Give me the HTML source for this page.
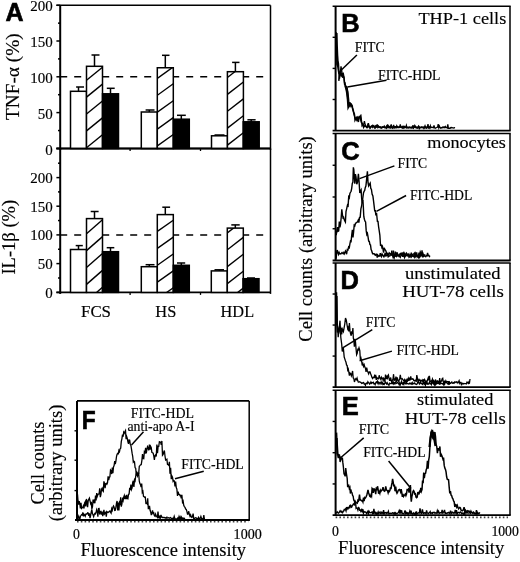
<!DOCTYPE html>
<html><head><meta charset="utf-8"><style>
html,body{margin:0;padding:0;background:#fff;}
svg{display:block;filter:grayscale(1);}
text{fill:#000;stroke:#000;stroke-width:0.15px;}
text.b{stroke-width:0.6px;}
text.s{stroke-width:0.2px;}
</style></head><body>
<svg width="520" height="562" viewBox="0 0 520 562">
<rect width="520" height="562" fill="#fff"/>
<line x1="60.2" y1="5.3" x2="60.2" y2="150.0" stroke="#000" stroke-width="2" />
<line x1="56.400000000000006" y1="5.3" x2="270.5" y2="5.3" stroke="#000" stroke-width="1.6" />
<line x1="270.5" y1="5.3" x2="270.5" y2="150.0" stroke="#000" stroke-width="1.5" />
<line x1="56.400000000000006" y1="148.5" x2="270.5" y2="148.5" stroke="#000" stroke-width="1.8" />
<line x1="56.400000000000006" y1="5.3" x2="60.2" y2="5.3" stroke="#000" stroke-width="1.5" />
<line x1="56.400000000000006" y1="41.0" x2="60.2" y2="41.0" stroke="#000" stroke-width="1.5" />
<line x1="56.400000000000006" y1="76.8" x2="60.2" y2="76.8" stroke="#000" stroke-width="1.5" />
<line x1="56.400000000000006" y1="112.6" x2="60.2" y2="112.6" stroke="#000" stroke-width="1.5" />
<line x1="56.400000000000006" y1="148.5" x2="60.2" y2="148.5" stroke="#000" stroke-width="1.5" />
<line x1="58.0" y1="23.15" x2="60.2" y2="23.15" stroke="#000" stroke-width="1.5" />
<line x1="58.0" y1="58.9" x2="60.2" y2="58.9" stroke="#000" stroke-width="1.5" />
<line x1="58.0" y1="94.69999999999999" x2="60.2" y2="94.69999999999999" stroke="#000" stroke-width="1.5" />
<line x1="58.0" y1="130.55" x2="60.2" y2="130.55" stroke="#000" stroke-width="1.5" />
<line x1="60.2" y1="76.8" x2="265" y2="76.8" stroke="#000" stroke-width="1.6" stroke-dasharray="7 7"/>
<rect x="70.5" y="91.3" width="16" height="57.2" fill="#fff" stroke="#000" stroke-width="1.5"/>
<line x1="78.5" y1="91.3" x2="78.5" y2="87.0" stroke="#000" stroke-width="1.5" />
<line x1="76.1" y1="87.0" x2="84.0" y2="87.0" stroke="#000" stroke-width="1.5" />
<rect x="86.5" y="66.3" width="16" height="82.2" fill="#fff" stroke="#000" stroke-width="1.5"/>
<clipPath id="c86_5"><rect x="86.5" y="66.3" width="16" height="82.2"/></clipPath>
<g clip-path="url(#c86_5)">
<line x1="86.5" y1="63.300000000000004" x2="102.5" y2="50.300000000000004" stroke="#000" stroke-width="1.4" />
<line x1="86.5" y1="80.2" x2="102.5" y2="67.2" stroke="#000" stroke-width="1.4" />
<line x1="86.5" y1="97.1" x2="102.5" y2="84.1" stroke="#000" stroke-width="1.4" />
<line x1="86.5" y1="114.0" x2="102.5" y2="101.0" stroke="#000" stroke-width="1.4" />
<line x1="86.5" y1="130.9" x2="102.5" y2="117.9" stroke="#000" stroke-width="1.4" />
<line x1="86.5" y1="147.8" x2="102.5" y2="134.8" stroke="#000" stroke-width="1.4" />
<line x1="86.5" y1="164.70000000000002" x2="102.5" y2="151.70000000000002" stroke="#000" stroke-width="1.4" />
</g>
<line x1="94.5" y1="66.3" x2="94.5" y2="55.0" stroke="#000" stroke-width="1.5" />
<line x1="91.5" y1="55.0" x2="99.5" y2="55.0" stroke="#000" stroke-width="1.5" />
<rect x="102.5" y="93.8" width="16" height="54.7" fill="#000" stroke="#000" stroke-width="1.5"/>
<line x1="110.5" y1="93.8" x2="110.5" y2="88.3" stroke="#000" stroke-width="1.5" />
<line x1="106.8" y1="88.3" x2="114.7" y2="88.3" stroke="#000" stroke-width="1.5" />
<rect x="141.3" y="112.0" width="16" height="36.5" fill="#fff" stroke="#000" stroke-width="1.5"/>
<line x1="149.3" y1="112.0" x2="149.3" y2="110.0" stroke="#000" stroke-width="1.5" />
<line x1="145.6" y1="110.0" x2="154.5" y2="110.0" stroke="#000" stroke-width="1.5" />
<rect x="157.3" y="67.75" width="16" height="80.75" fill="#fff" stroke="#000" stroke-width="1.5"/>
<clipPath id="c157_5"><rect x="157.3" y="67.75" width="16" height="80.75"/></clipPath>
<g clip-path="url(#c157_5)">
<line x1="157.3" y1="61.50000000000001" x2="173.3" y2="50.00000000000001" stroke="#000" stroke-width="1.4" />
<line x1="157.3" y1="78.4" x2="173.3" y2="66.9" stroke="#000" stroke-width="1.4" />
<line x1="157.3" y1="95.30000000000001" x2="173.3" y2="83.80000000000001" stroke="#000" stroke-width="1.4" />
<line x1="157.3" y1="112.20000000000002" x2="173.3" y2="100.70000000000002" stroke="#000" stroke-width="1.4" />
<line x1="157.3" y1="129.10000000000002" x2="173.3" y2="117.60000000000002" stroke="#000" stroke-width="1.4" />
<line x1="157.3" y1="146.00000000000003" x2="173.3" y2="134.50000000000003" stroke="#000" stroke-width="1.4" />
<line x1="157.3" y1="162.90000000000003" x2="173.3" y2="151.40000000000003" stroke="#000" stroke-width="1.4" />
</g>
<line x1="165.3" y1="67.75" x2="165.3" y2="55.3" stroke="#000" stroke-width="1.5" />
<line x1="162.0" y1="55.3" x2="169.5" y2="55.3" stroke="#000" stroke-width="1.5" />
<rect x="173.3" y="119.2" width="16" height="29.299999999999997" fill="#000" stroke="#000" stroke-width="1.5"/>
<line x1="181.3" y1="119.2" x2="181.3" y2="115.3" stroke="#000" stroke-width="1.5" />
<line x1="177.0" y1="115.3" x2="185.8" y2="115.3" stroke="#000" stroke-width="1.5" />
<rect x="211.5" y="135.8" width="16" height="12.699999999999989" fill="#fff" stroke="#000" stroke-width="1.5"/>
<line x1="219.5" y1="135.8" x2="219.5" y2="135.0" stroke="#000" stroke-width="1.5" />
<line x1="214.5" y1="135.0" x2="224.5" y2="135.0" stroke="#000" stroke-width="1.5" />
<rect x="227.4" y="71.7" width="16" height="76.8" fill="#fff" stroke="#000" stroke-width="1.5"/>
<clipPath id="c227_5"><rect x="227.4" y="71.7" width="16" height="76.8"/></clipPath>
<g clip-path="url(#c227_5)">
<line x1="227.4" y1="60.6" x2="243.4" y2="48.2" stroke="#000" stroke-width="1.4" />
<line x1="227.4" y1="77.5" x2="243.4" y2="65.1" stroke="#000" stroke-width="1.4" />
<line x1="227.4" y1="94.4" x2="243.4" y2="82.0" stroke="#000" stroke-width="1.4" />
<line x1="227.4" y1="111.30000000000001" x2="243.4" y2="98.9" stroke="#000" stroke-width="1.4" />
<line x1="227.4" y1="128.20000000000002" x2="243.4" y2="115.80000000000001" stroke="#000" stroke-width="1.4" />
<line x1="227.4" y1="145.10000000000002" x2="243.4" y2="132.70000000000002" stroke="#000" stroke-width="1.4" />
<line x1="227.4" y1="162.00000000000003" x2="243.4" y2="149.60000000000002" stroke="#000" stroke-width="1.4" />
</g>
<line x1="235.4" y1="71.7" x2="235.4" y2="62.4" stroke="#000" stroke-width="1.5" />
<line x1="232.1" y1="62.4" x2="239.5" y2="62.4" stroke="#000" stroke-width="1.5" />
<rect x="243.2" y="121.8" width="16" height="26.700000000000003" fill="#000" stroke="#000" stroke-width="1.5"/>
<line x1="251.2" y1="121.8" x2="251.2" y2="119.8" stroke="#000" stroke-width="1.5" />
<line x1="247.4" y1="119.8" x2="255.6" y2="119.8" stroke="#000" stroke-width="1.5" />
<line x1="130.1" y1="148.5" x2="130.1" y2="151.0" stroke="#000" stroke-width="1.3" />
<line x1="200.5" y1="148.5" x2="200.5" y2="151.0" stroke="#000" stroke-width="1.3" />
<line x1="58.0" y1="163.2" x2="60.2" y2="163.2" stroke="#000" stroke-width="1.5" />
<line x1="60.2" y1="148.5" x2="60.2" y2="293.9" stroke="#000" stroke-width="2" />
<line x1="56.400000000000006" y1="148.5" x2="270.5" y2="148.5" stroke="#000" stroke-width="1.6" />
<line x1="270.5" y1="148.5" x2="270.5" y2="293.9" stroke="#000" stroke-width="1.5" />
<line x1="56.400000000000006" y1="292.4" x2="270.5" y2="292.4" stroke="#000" stroke-width="1.8" />
<line x1="56.400000000000006" y1="177.6" x2="60.2" y2="177.6" stroke="#000" stroke-width="1.5" />
<line x1="56.400000000000006" y1="206.2" x2="60.2" y2="206.2" stroke="#000" stroke-width="1.5" />
<line x1="56.400000000000006" y1="234.9" x2="60.2" y2="234.9" stroke="#000" stroke-width="1.5" />
<line x1="56.400000000000006" y1="263.6" x2="60.2" y2="263.6" stroke="#000" stroke-width="1.5" />
<line x1="56.400000000000006" y1="292.4" x2="60.2" y2="292.4" stroke="#000" stroke-width="1.5" />
<line x1="58.0" y1="191.89999999999998" x2="60.2" y2="191.89999999999998" stroke="#000" stroke-width="1.5" />
<line x1="58.0" y1="220.55" x2="60.2" y2="220.55" stroke="#000" stroke-width="1.5" />
<line x1="58.0" y1="249.25" x2="60.2" y2="249.25" stroke="#000" stroke-width="1.5" />
<line x1="58.0" y1="278.0" x2="60.2" y2="278.0" stroke="#000" stroke-width="1.5" />
<line x1="60.2" y1="235.0" x2="265" y2="235.0" stroke="#000" stroke-width="1.6" stroke-dasharray="7 7"/>
<rect x="70.5" y="249.5" width="16" height="42.89999999999998" fill="#fff" stroke="#000" stroke-width="1.5"/>
<line x1="78.5" y1="249.5" x2="78.5" y2="245.6" stroke="#000" stroke-width="1.5" />
<line x1="75.7" y1="245.6" x2="82.8" y2="245.6" stroke="#000" stroke-width="1.5" />
<rect x="86.5" y="218.6" width="16" height="73.79999999999998" fill="#fff" stroke="#000" stroke-width="1.5"/>
<clipPath id="c86_148"><rect x="86.5" y="218.6" width="16" height="73.79999999999998"/></clipPath>
<g clip-path="url(#c86_148)">
<line x1="86.5" y1="216.79999999999998" x2="102.5" y2="202.79999999999998" stroke="#000" stroke-width="1.4" />
<line x1="86.5" y1="233.7" x2="102.5" y2="219.7" stroke="#000" stroke-width="1.4" />
<line x1="86.5" y1="250.6" x2="102.5" y2="236.6" stroke="#000" stroke-width="1.4" />
<line x1="86.5" y1="267.5" x2="102.5" y2="253.5" stroke="#000" stroke-width="1.4" />
<line x1="86.5" y1="284.4" x2="102.5" y2="270.4" stroke="#000" stroke-width="1.4" />
<line x1="86.5" y1="301.29999999999995" x2="102.5" y2="287.29999999999995" stroke="#000" stroke-width="1.4" />
</g>
<line x1="94.5" y1="218.6" x2="94.5" y2="211.5" stroke="#000" stroke-width="1.5" />
<line x1="90.7" y1="211.5" x2="98.6" y2="211.5" stroke="#000" stroke-width="1.5" />
<rect x="102.5" y="251.7" width="16" height="40.69999999999999" fill="#000" stroke="#000" stroke-width="1.5"/>
<line x1="110.5" y1="251.7" x2="110.5" y2="247.7" stroke="#000" stroke-width="1.5" />
<line x1="106.7" y1="247.7" x2="114.3" y2="247.7" stroke="#000" stroke-width="1.5" />
<rect x="141.3" y="266.7" width="16" height="25.69999999999999" fill="#fff" stroke="#000" stroke-width="1.5"/>
<line x1="149.3" y1="266.7" x2="149.3" y2="264.7" stroke="#000" stroke-width="1.5" />
<line x1="145.6" y1="264.7" x2="154.5" y2="264.7" stroke="#000" stroke-width="1.5" />
<rect x="157.3" y="214.6" width="16" height="77.79999999999998" fill="#fff" stroke="#000" stroke-width="1.5"/>
<clipPath id="c157_148"><rect x="157.3" y="214.6" width="16" height="77.79999999999998"/></clipPath>
<g clip-path="url(#c157_148)">
<line x1="157.3" y1="214.6" x2="173.3" y2="203.29999999999998" stroke="#000" stroke-width="1.4" />
<line x1="157.3" y1="231.5" x2="173.3" y2="220.2" stroke="#000" stroke-width="1.4" />
<line x1="157.3" y1="248.4" x2="173.3" y2="237.1" stroke="#000" stroke-width="1.4" />
<line x1="157.3" y1="265.3" x2="173.3" y2="254.0" stroke="#000" stroke-width="1.4" />
<line x1="157.3" y1="282.2" x2="173.3" y2="270.9" stroke="#000" stroke-width="1.4" />
<line x1="157.3" y1="299.09999999999997" x2="173.3" y2="287.79999999999995" stroke="#000" stroke-width="1.4" />
</g>
<line x1="165.3" y1="214.6" x2="165.3" y2="207.2" stroke="#000" stroke-width="1.5" />
<line x1="162.3" y1="207.2" x2="170.1" y2="207.2" stroke="#000" stroke-width="1.5" />
<rect x="173.3" y="265.3" width="16" height="27.099999999999966" fill="#000" stroke="#000" stroke-width="1.5"/>
<line x1="181.3" y1="265.3" x2="181.3" y2="263.0" stroke="#000" stroke-width="1.5" />
<line x1="177.0" y1="263.0" x2="185.2" y2="263.0" stroke="#000" stroke-width="1.5" />
<rect x="211.3" y="270.9" width="16" height="21.5" fill="#fff" stroke="#000" stroke-width="1.5"/>
<line x1="219.3" y1="270.9" x2="219.3" y2="269.8" stroke="#000" stroke-width="1.5" />
<line x1="214.5" y1="269.8" x2="224.0" y2="269.8" stroke="#000" stroke-width="1.5" />
<rect x="227.3" y="228.1" width="16" height="64.29999999999998" fill="#fff" stroke="#000" stroke-width="1.5"/>
<clipPath id="c227_148"><rect x="227.3" y="228.1" width="16" height="64.29999999999998"/></clipPath>
<g clip-path="url(#c227_148)">
<line x1="227.3" y1="216.0" x2="243.3" y2="203.6" stroke="#000" stroke-width="1.4" />
<line x1="227.3" y1="232.9" x2="243.3" y2="220.5" stroke="#000" stroke-width="1.4" />
<line x1="227.3" y1="249.8" x2="243.3" y2="237.4" stroke="#000" stroke-width="1.4" />
<line x1="227.3" y1="266.7" x2="243.3" y2="254.29999999999998" stroke="#000" stroke-width="1.4" />
<line x1="227.3" y1="283.59999999999997" x2="243.3" y2="271.2" stroke="#000" stroke-width="1.4" />
<line x1="227.3" y1="300.49999999999994" x2="243.3" y2="288.09999999999997" stroke="#000" stroke-width="1.4" />
</g>
<line x1="235.3" y1="228.1" x2="235.3" y2="224.9" stroke="#000" stroke-width="1.5" />
<line x1="231.3" y1="224.9" x2="239.7" y2="224.9" stroke="#000" stroke-width="1.5" />
<rect x="243.0" y="278.7" width="16" height="13.699999999999989" fill="#000" stroke="#000" stroke-width="1.5"/>
<line x1="251.0" y1="278.7" x2="251.0" y2="278.0" stroke="#000" stroke-width="1.5" />
<line x1="247.0" y1="278.0" x2="255.0" y2="278.0" stroke="#000" stroke-width="1.5" />
<line x1="130.1" y1="292.4" x2="130.1" y2="294.9" stroke="#000" stroke-width="1.3" />
<line x1="200.5" y1="292.4" x2="200.5" y2="294.9" stroke="#000" stroke-width="1.3" />
<text x="52.8" y="11.399999999999999" font-size="15" font-family="Liberation Serif" text-anchor="end" >200</text>
<text x="52.8" y="47.1" font-size="15" font-family="Liberation Serif" text-anchor="end" >150</text>
<text x="52.8" y="82.89999999999999" font-size="15" font-family="Liberation Serif" text-anchor="end" >100</text>
<text x="52.8" y="118.69999999999999" font-size="15" font-family="Liberation Serif" text-anchor="end" >50</text>
<text x="52.8" y="155.1" font-size="15" font-family="Liberation Serif" text-anchor="end" >0</text>
<text x="52.8" y="183.1" font-size="15" font-family="Liberation Serif" text-anchor="end" >200</text>
<text x="52.8" y="211.7" font-size="15" font-family="Liberation Serif" text-anchor="end" >150</text>
<text x="52.8" y="240.4" font-size="15" font-family="Liberation Serif" text-anchor="end" >100</text>
<text x="52.8" y="269.1" font-size="15" font-family="Liberation Serif" text-anchor="end" >50</text>
<text x="52.8" y="297.9" font-size="15" font-family="Liberation Serif" text-anchor="end" >0</text>
<text x="5.5" y="21" font-size="25" font-family="Liberation Sans" font-weight="bold" class="b" text-anchor="start" >A</text>
<text transform="translate(18.9,120) rotate(-90)" font-size="18.5" font-family="Liberation Serif" textLength="86.6" lengthAdjust="spacingAndGlyphs">TNF-α (%)</text>
<text transform="translate(15.0,274.6) rotate(-90)" font-size="18.5" font-family="Liberation Serif" textLength="74.8" lengthAdjust="spacingAndGlyphs">IL-1β (%)</text>
<text x="81.0" y="316.7" font-size="16.5" font-family="Liberation Serif" text-anchor="start" textLength="30" lengthAdjust="spacingAndGlyphs" >FCS</text>
<text x="155.3" y="316.9" font-size="16.5" font-family="Liberation Serif" text-anchor="start" textLength="21" lengthAdjust="spacingAndGlyphs" >HS</text>
<text x="220.6" y="316.6" font-size="16.5" font-family="Liberation Serif" text-anchor="start" textLength="33.5" lengthAdjust="spacingAndGlyphs" >HDL</text>
<line x1="335.6" y1="6.2" x2="335.6" y2="130.6" stroke="#000" stroke-width="2" />
<line x1="332.6" y1="6.2" x2="510.7" y2="6.2" stroke="#000" stroke-width="1.6" />
<line x1="510.0" y1="6.2" x2="510.0" y2="130.6" stroke="#000" stroke-width="1.5" />
<line x1="332.6" y1="130.6" x2="510.7" y2="130.6" stroke="#000" stroke-width="1.8" />
<line x1="332.6" y1="37.3" x2="335.6" y2="37.3" stroke="#000" stroke-width="1.4" />
<line x1="332.6" y1="68.39999999999999" x2="335.6" y2="68.39999999999999" stroke="#000" stroke-width="1.4" />
<line x1="332.6" y1="99.5" x2="335.6" y2="99.5" stroke="#000" stroke-width="1.4" />
<line x1="335.6" y1="133.5" x2="335.6" y2="260.5" stroke="#000" stroke-width="2" />
<line x1="332.6" y1="133.5" x2="510.7" y2="133.5" stroke="#000" stroke-width="1.6" />
<line x1="510.0" y1="133.5" x2="510.0" y2="260.5" stroke="#000" stroke-width="1.5" />
<line x1="332.6" y1="260.5" x2="510.7" y2="260.5" stroke="#000" stroke-width="1.8" />
<line x1="332.6" y1="165.25" x2="335.6" y2="165.25" stroke="#000" stroke-width="1.4" />
<line x1="332.6" y1="197.0" x2="335.6" y2="197.0" stroke="#000" stroke-width="1.4" />
<line x1="332.6" y1="228.75" x2="335.6" y2="228.75" stroke="#000" stroke-width="1.4" />
<line x1="335.6" y1="263.0" x2="335.6" y2="387.1" stroke="#000" stroke-width="2" />
<line x1="332.6" y1="263.0" x2="510.7" y2="263.0" stroke="#000" stroke-width="1.6" />
<line x1="510.0" y1="263.0" x2="510.0" y2="387.1" stroke="#000" stroke-width="1.5" />
<line x1="332.6" y1="387.1" x2="510.7" y2="387.1" stroke="#000" stroke-width="1.8" />
<line x1="332.6" y1="294.025" x2="335.6" y2="294.025" stroke="#000" stroke-width="1.4" />
<line x1="332.6" y1="325.05" x2="335.6" y2="325.05" stroke="#000" stroke-width="1.4" />
<line x1="332.6" y1="356.07500000000005" x2="335.6" y2="356.07500000000005" stroke="#000" stroke-width="1.4" />
<line x1="335.6" y1="390.2" x2="335.6" y2="515.2" stroke="#000" stroke-width="2" />
<line x1="332.6" y1="390.2" x2="510.7" y2="390.2" stroke="#000" stroke-width="1.6" />
<line x1="510.0" y1="390.2" x2="510.0" y2="515.2" stroke="#000" stroke-width="1.5" />
<line x1="332.6" y1="515.2" x2="510.7" y2="515.2" stroke="#000" stroke-width="1.8" />
<line x1="332.6" y1="421.45" x2="335.6" y2="421.45" stroke="#000" stroke-width="1.4" />
<line x1="332.6" y1="452.70000000000005" x2="335.6" y2="452.70000000000005" stroke="#000" stroke-width="1.4" />
<line x1="332.6" y1="483.95000000000005" x2="335.6" y2="483.95000000000005" stroke="#000" stroke-width="1.4" />
<line x1="335.6" y1="517.4" x2="508" y2="517.4" stroke="#000" stroke-width="1.8" stroke-dasharray="1.6 2.2" stroke-opacity="0.75"/>
<text x="341.3" y="31.9" font-size="25.5" font-family="Liberation Sans" font-weight="bold" class="b" text-anchor="start" >B</text>
<text x="341.3" y="159.5" font-size="25.5" font-family="Liberation Sans" font-weight="bold" class="b" text-anchor="start" >C</text>
<text x="340.6" y="288.8" font-size="25.5" font-family="Liberation Sans" font-weight="bold" class="b" text-anchor="start" >D</text>
<text x="341.8" y="415.0" font-size="25.5" font-family="Liberation Sans" font-weight="bold" class="b" text-anchor="start" >E</text>
<text x="506.3" y="23.7" font-size="17.5" font-family="Liberation Serif" text-anchor="end" textLength="87.9" lengthAdjust="spacingAndGlyphs" >THP-1 cells</text>
<text x="505.9" y="147.7" font-size="17.5" font-family="Liberation Serif" text-anchor="end" textLength="78.6" lengthAdjust="spacingAndGlyphs" >monocytes</text>
<text x="500.6" y="278.5" font-size="17.5" font-family="Liberation Serif" text-anchor="end" textLength="95.7" lengthAdjust="spacingAndGlyphs" >unstimulated</text>
<text x="503.9" y="297.4" font-size="17.5" font-family="Liberation Serif" text-anchor="end" textLength="101.7" lengthAdjust="spacingAndGlyphs" >HUT-78 cells</text>
<text x="493.4" y="405.4" font-size="17.5" font-family="Liberation Serif" text-anchor="end" textLength="76.4" lengthAdjust="spacingAndGlyphs" >stimulated</text>
<text x="505.8" y="424.0" font-size="17.7" font-family="Liberation Serif" text-anchor="end" textLength="101.0" lengthAdjust="spacingAndGlyphs" >HUT-78 cells</text>
<text x="354.8" y="52.2" font-size="14" font-family="Liberation Serif" text-anchor="start" textLength="30.0" lengthAdjust="spacingAndGlyphs" >FITC</text>
<line x1="356.9" y1="55" x2="341.1" y2="70.2" stroke="#000" stroke-width="1.5" />
<text x="378.1" y="80.3" font-size="14" font-family="Liberation Serif" text-anchor="start" textLength="62.4" lengthAdjust="spacingAndGlyphs" >FITC-HDL</text>
<line x1="386.5" y1="80.3" x2="347.4" y2="87.1" stroke="#000" stroke-width="1.5" />
<text x="397.6" y="168.0" font-size="14" font-family="Liberation Serif" text-anchor="start" textLength="29.6" lengthAdjust="spacingAndGlyphs" >FITC</text>
<line x1="394.4" y1="165.9" x2="359.5" y2="178.6" stroke="#000" stroke-width="1.5" />
<text x="410.0" y="199.7" font-size="14" font-family="Liberation Serif" text-anchor="start" textLength="62.3" lengthAdjust="spacingAndGlyphs" >FITC-HDL</text>
<line x1="406.1" y1="195.5" x2="376.4" y2="211.3" stroke="#000" stroke-width="1.5" />
<text x="365.8" y="326.6" font-size="14" font-family="Liberation Serif" text-anchor="start" textLength="29.6" lengthAdjust="spacingAndGlyphs" >FITC</text>
<line x1="372.3" y1="329.6" x2="342.3" y2="348.1" stroke="#000" stroke-width="1.5" />
<text x="396.5" y="355.0" font-size="14" font-family="Liberation Serif" text-anchor="start" textLength="62.4" lengthAdjust="spacingAndGlyphs" >FITC-HDL</text>
<line x1="391.9" y1="351.1" x2="359.6" y2="360.8" stroke="#000" stroke-width="1.5" />
<text x="358.7" y="433.6" font-size="14" font-family="Liberation Serif" text-anchor="start" textLength="30.4" lengthAdjust="spacingAndGlyphs" >FITC</text>
<line x1="363.7" y1="437.9" x2="341.2" y2="457.3" stroke="#000" stroke-width="1.5" />
<text x="363.2" y="457.3" font-size="14" font-family="Liberation Serif" text-anchor="start" textLength="62.3" lengthAdjust="spacingAndGlyphs" >FITC-HDL</text>
<line x1="388.6" y1="461" x2="411" y2="488.5" stroke="#000" stroke-width="1.5" />
<text x="332.0" y="535.5" font-size="13.8" font-family="Liberation Serif" text-anchor="start" class="s">0</text>
<text x="518.8" y="535.6" font-size="13.8" font-family="Liberation Serif" text-anchor="end" textLength="27.4" lengthAdjust="spacingAndGlyphs" class="s">1000</text>
<text x="338.1" y="553.7" font-size="18" font-family="Liberation Serif" text-anchor="start" textLength="166.1" lengthAdjust="spacingAndGlyphs" >Fluorescence intensity</text>
<text transform="translate(312.3,341.7) rotate(-90)" font-size="18.5" font-family="Liberation Serif" textLength="205.5" lengthAdjust="spacingAndGlyphs">Cell counts (arbitrary units)</text>
<line x1="77.0" y1="400.9" x2="77.0" y2="520.0" stroke="#000" stroke-width="2" />
<line x1="77.0" y1="400.9" x2="249.2" y2="400.9" stroke="#000" stroke-width="1.6" />
<line x1="249.2" y1="400.9" x2="249.2" y2="520.0" stroke="#000" stroke-width="1.5" />
<line x1="75.0" y1="520.0" x2="249.89999999999998" y2="520.0" stroke="#000" stroke-width="1.8" />
<line x1="77.0" y1="521.5" x2="248.2" y2="521.5" stroke="#000" stroke-width="1.8" stroke-dasharray="1.6 2.2" stroke-opacity="0.75"/>
<line x1="74.5" y1="430.8" x2="77.0" y2="430.8" stroke="#000" stroke-width="1.4" />
<line x1="74.5" y1="460.2" x2="77.0" y2="460.2" stroke="#000" stroke-width="1.4" />
<line x1="74.5" y1="490.6" x2="77.0" y2="490.6" stroke="#000" stroke-width="1.4" />
<text x="81.7" y="429.0" font-size="25" font-family="Liberation Sans" font-weight="bold" class="b" text-anchor="start" textLength="13.9" lengthAdjust="spacingAndGlyphs" >F</text>
<text x="130.8" y="418.4" font-size="14" font-family="Liberation Serif" text-anchor="start" textLength="63.2" lengthAdjust="spacingAndGlyphs" >FITC-HDL</text>
<text x="127.4" y="430.5" font-size="14" font-family="Liberation Serif" textLength="67.1" lengthAdjust="spacingAndGlyphs">anti-apo A-I</text>
<line x1="143.5" y1="431.7" x2="131.5" y2="444.9" stroke="#000" stroke-width="1.5" />
<text x="181.25" y="468.75" font-size="14" font-family="Liberation Serif" text-anchor="start" textLength="62.5" lengthAdjust="spacingAndGlyphs" >FITC-HDL</text>
<line x1="203.75" y1="471.25" x2="175" y2="478.75" stroke="#000" stroke-width="1.5" />
<text x="72.9" y="539.0" font-size="13.8" font-family="Liberation Serif" text-anchor="start" class="s">0</text>
<text x="261.8" y="539.0" font-size="13.8" font-family="Liberation Serif" text-anchor="end" textLength="28.2" lengthAdjust="spacingAndGlyphs" class="s">1000</text>
<text x="80.6" y="556.3" font-size="18.5" font-family="Liberation Serif" text-anchor="start" textLength="165.4" lengthAdjust="spacingAndGlyphs" >Fluorescence intensity</text>
<text transform="translate(44.1,504.5) rotate(-90)" font-size="18.5" font-family="Liberation Serif" textLength="83" lengthAdjust="spacingAndGlyphs">Cell counts</text>
<text transform="translate(61.5,521.3) rotate(-90)" font-size="18.5" font-family="Liberation Serif" textLength="116.7" lengthAdjust="spacingAndGlyphs">(arbitrary units)</text>
<polyline points="336.2,32.32 336.4,46.28 336.8,54.47 337.0,64.31 337.6,65.3 338.2,69.15 338.8,73.08 339.4,72.78 338.8,80.92 339.37,76.7 339.93,74.31 340.5,71.19 341.1,74.41 341.65,76.53 342.2,72.95 342.8,75.81 343.4,74.36 344.0,77.87 344.6,83.06 345.15,85.0 345.7,87.55 346.3,87.47 346.9,89.02 347.5,91.62 348.0,97.89 348.6,106.04 349.2,103.42 349.8,105.66 350.35,104.54 350.9,105.98 351.5,104.6 352.1,105.61 352.65,107.91 353.2,109.97 353.8,112.6 354.4,113.88 355.0,120.12 355.55,119.05 356.1,118.82 356.7,119.89 357.3,117.43 357.85,120.12 358.4,121.94 359.0,117.94 359.6,117.05 360.2,116.12 360.7,119.97 361.3,122.15 361.9,123.12 362.5,123.45 363.05,125.98 363.6,127.37 364.2,125.92 364.8,126.32 365.4,125.51 365.97,126.39 366.53,127.33 367.1,127.55 367.7,125.77 368.3,123.12 368.87,125.76 369.43,126.51 370.0,128.07 370.57,127.08 371.13,126.49 371.7,126.03 372.29,127.01 372.89,125.37 373.48,125.72 374.07,126.62 374.66,127.26 375.26,126.88 375.85,125.73 376.44,125.5 377.04,126.92 377.63,126.45 378.22,126.33 378.81,127.35 379.41,127.45 380.0,127.07 380.61,127.11 381.21,127.19 381.82,127.72 382.42,127.28 383.03,127.23 383.64,127.25 384.24,126.3 384.85,127.58 385.45,127.43 386.06,127.24 386.67,126.11 387.27,126.72 387.88,127.38 388.48,126.19 389.09,126.92 389.7,127.46 390.3,126.41 390.91,127.72 391.52,127.25 392.12,126.93 392.73,127.15 393.33,127.29 393.94,127.05 394.55,127.51 395.15,126.7 395.76,126.81 396.36,127.47 396.97,127.01 397.58,126.6 398.18,127.42 398.79,127.66 399.39,126.8 400.0,126.38 400.6,126.95 401.2,126.95 401.8,126.9 402.4,127.66 403.0,126.59 403.6,127.62 404.2,126.51 404.8,126.73 405.4,127.37 406.0,127.59 406.6,127.49 407.2,127.27 407.8,127.19 408.4,127.21 409.0,127.4 409.6,127.08 410.2,127.29 410.8,127.43 411.4,127.19 412.0,127.53 412.6,127.45 413.2,128.08 413.8,127.37 414.4,127.06 415.0,127.09 415.6,127.25 416.2,127.66 416.8,127.14 417.4,127.45 418.0,128.07 418.6,126.24 419.2,126.85 419.8,127.43 420.4,127.5 421.0,127.45 421.6,127.18 422.2,127.64 422.8,127.49 423.4,127.18 424.0,128.38 424.6,127.55 425.2,127.2 425.8,127.39 426.4,127.35 427.0,127.42 427.6,126.38 428.2,127.28 428.8,127.88 429.4,127.03 430,127.47" fill="none" stroke="#000" stroke-width="1.5" stroke-linejoin="miter"/>
<polyline points="337.2,52.31 337.6,60.39 338.5,63.34 339.0,71.15 339.5,78.64 340.25,73.82 341.0,66.34 341.75,70.54 342.5,77.8 343.25,75.82 344.0,77.13 344.6,85.31 345.2,83.92 345.85,87.74 346.5,90.24 347.2,92.51 347.7,98.24 348.2,101.79 348.77,103.49 349.35,105.46 349.93,102.22 350.5,104.31 351.17,104.13 351.83,105.59 352.5,108.8 353.25,111.3 354.0,114.51 354.75,116.7 355.5,118.51 356.12,118.02 356.75,117.25 357.38,120.11 358.0,117.24 358.6,117.98 359.2,116.57 359.8,117.19 360.4,117.74 361.0,116.33 361.5,120.66 362.0,125.48 362.6,124.49 363.2,125.15 363.8,124.01 364.4,121.03 365.0,123.84 365.67,126.24 366.33,126.36 367.0,127.42 367.62,126.93 368.25,124.08 368.88,127.06 369.5,127.13 370.12,127.91 370.75,127.19 371.38,126.09 372.0,126.46 372.6,126.99 373.2,126.52 373.8,126.92 374.4,127.8 375.0,126.31 375.6,127.85 376.2,126.77 376.8,126.92 377.4,124.31 378.0,127.3 378.6,126.2 379.2,126.99 379.8,126.93 380.4,127.34 381.0,128.2 381.6,127.97 382.2,127.12 382.8,126.79 383.4,127.15 384.0,127.19 384.6,127.13 385.2,127.6 385.8,127.27 386.4,128.37 387.0,127.73 387.6,124.46 388.2,127.47 388.8,127.58 389.4,127.61 390.0,127.29 390.61,127.54 391.21,124.38 391.82,127.15 392.42,128.2 393.03,127.76 393.64,124.81 394.24,127.75 394.85,127.07 395.45,127.8 396.06,127.71 396.67,125.91 397.27,127.63 397.88,127.46 398.48,127.4 399.09,127.06 399.7,127.35 400.3,124.5 400.91,127.16 401.52,127.33 402.12,128.01 402.73,127.89 403.33,127.64 403.94,127.09 404.55,127.81 405.15,127.41 405.76,127.19 406.36,125.4 406.97,128.06 407.58,127.76 408.18,128.14 408.79,127.87 409.39,127.44 410.0,127.79 410.6,127.74 411.2,127.86 411.8,128.0 412.4,127.43 413.0,125.12 413.6,127.86 414.2,127.27 414.8,125.5 415.4,126.32 416.0,127.75 416.6,127.6 417.2,128.06 417.8,127.22 418.4,127.04 419.0,127.05 419.6,128.55 420.2,127.5 420.8,127.48 421.4,127.14 422.0,127.13 422.6,127.14 423.2,127.52 423.8,127.83 424.4,127.15 425.0,125.74 425.6,127.35 426.2,128.18 426.8,128.05 427.4,127.22 428.0,124.12 428.6,127.62 429.2,127.18 429.8,128.19 430.4,125.85 431.0,127.61 431.6,127.39 432.2,127.28 432.8,127.67 433.4,127.71 434.0,125.35 434.6,127.65 435.2,128.28 435.8,127.8 436.4,127.69 437.0,127.48 437.6,127.17 438.2,124.0 438.8,127.78 439.4,126.13 440.0,127.58 440.6,128.1 441.2,127.63 441.8,127.95 442.4,127.63 443.0,126.83 443.6,127.59 444.2,126.97 444.8,127.69 445.4,126.56 446.0,127.49 446.6,127.45 447.2,127.84 447.8,124.47 448.4,128.38 449.0,128.36 449.6,128.32 450.2,127.68 450.8,128.11 451.4,127.49 452.0,127.6 452.6,127.94 453.2,127.84 453.8,128.04 454.4,127.69 455,127.93" fill="none" stroke="#000" stroke-width="1.3" stroke-linejoin="miter"/>
<polyline points="335.7,234.94 336.3,234.56 336.9,230.15 337.5,227.2 338.1,231.18 338.7,230.77 339.3,221.64 339.93,227.41 340.57,223.84 341.2,217.49 341.8,209.38 342.4,214.51 343.0,217.7 343.6,217.18 344.2,219.58 344.8,220.91 345.4,222.01 346.0,211.55 346.75,208.34 347.5,205.11 348.1,205.83 348.7,196.9 349.3,197.76 349.9,193.35 350.5,192.26 351.1,191.26 351.7,188.29 352.3,183.46 352.9,182.11 353.35,167.29 353.8,169.55 354.3,176.14 354.8,183.7 355.4,174.1 356.0,176.9 356.75,184.2 357.5,182.44 358.4,173.92 359.1,181.85 359.8,193.06 360.45,191.09 361.1,189.91 361.7,199.01 362.3,203.33 362.9,199.81 363.35,207.11 363.8,216.47 364.4,219.2 365.0,221.22 365.6,221.91 366.2,230.67 366.8,234.45 367.4,233.3 368.03,236.93 368.67,241.21 369.3,241.4 369.9,244.49 370.5,244.86 371.1,249.56 371.7,250.7 372.3,252.88 372.9,253.95 373.52,253.68 374.14,253.75 374.76,254.69 375.38,255.22 376.0,254.25 376.61,254.24 377.22,257.5 377.83,255.26 378.43,256.24 379.04,255.79 379.65,256.02 380.26,253.09 380.87,255.46 381.48,256.53 382.09,254.02 382.7,254.9 383.3,255.88 383.91,256.86 384.52,255.62 385.13,252.94 385.74,255.92 386.35,255.9 386.96,255.24 387.57,254.19 388.17,256.97 388.78,256.59 389.39,255.84 390.0,255.85 390.61,254.1 391.21,254.6 391.82,250.52 392.42,255.42 393.03,257.22 393.64,255.13 394.24,257.5 394.85,255.31 395.45,251.6 396.06,256.78 396.67,252.79 397.27,252.93 397.88,255.9 398.48,255.49 399.09,256.6 399.7,256.27 400.3,257.21 400.91,255.7 401.52,254.09 402.12,252.43 402.73,256.88 403.33,252.9 403.94,255.88 404.55,257.5 405.15,255.23 405.76,255.9 406.36,255.74 406.97,254.78 407.58,255.75 408.18,254.71 408.79,253.97 409.39,256.94 410.0,256.87 410.61,254.33 411.21,256.74 411.82,255.56 412.42,256.15 413.03,255.1 413.64,256.5 414.24,255.82 414.85,257.45 415.45,256.55 416.06,256.33 416.67,255.91 417.27,255.54 417.88,256.69 418.48,257.5 419.09,254.35 419.7,257.16 420.3,256.17 420.91,253.46 421.52,255.29 422.12,255.34 422.73,256.03 423.33,256.54 423.94,255.89 424.55,256.0 425.15,256.2 425.76,256.64 426.36,255.58 426.97,255.82 427.58,252.85 428.18,255.54 428.79,255.33 429.39,256.39 430,255.55" fill="none" stroke="#000" stroke-width="1.4" stroke-linejoin="miter"/>
<polyline points="335.7,255.83 336.27,257.09 336.85,250.78 337.42,250.6 337.99,253.04 338.56,254.44 339.14,252.48 339.71,253.79 340.28,253.78 340.85,254.0 341.43,253.06 342.0,252.48 342.57,253.16 343.15,253.71 343.73,252.64 344.3,253.84 344.88,252.53 345.45,251.04 346.03,252.24 346.6,254.22 347.28,249.65 347.95,250.01 348.62,246.91 349.3,247.68 349.9,243.86 350.5,240.9 351.1,241.3 351.73,235.03 352.37,229.8 353.0,237.54 353.6,231.93 354.2,225.27 354.8,225.92 355.48,223.24 356.15,222.93 356.82,222.43 357.5,221.82 358.18,220.23 358.85,222.6 359.52,217.52 360.2,217.18 360.9,208.77 361.6,205.8 362.25,201.58 362.9,197.28 363.5,192.96 364.1,191.37 364.7,190.4 365.3,187.35 365.9,186.04 366.5,180.43 367.4,171.29 368.03,182.68 368.67,185.87 369.3,184.7 370.2,183.14 370.8,188.47 371.4,189.19 372.15,194.27 372.9,196.04 373.5,200.66 374.1,205.68 374.7,210.72 375.3,210.66 375.9,215.53 376.5,212.72 377.4,221.46 378.0,221.5 378.6,226.75 379.2,230.63 379.85,235.07 380.5,245.15 381.2,245.01 381.9,247.61 382.46,246.46 383.02,249.46 383.58,252.61 384.14,247.84 384.7,249.24 385.38,250.17 386.05,251.33 386.72,254.07 387.4,253.47 388.0,253.96 388.6,254.84 389.2,252.94 389.8,253.59 390.4,253.8 391.0,254.61 391.6,254.86 392.2,255.01 392.8,254.85 393.4,250.63 394.0,253.62 394.6,254.27 395.2,256.54 395.8,254.02 396.4,256.21 397.0,255.23 397.6,254.17 398.2,255.63 398.8,255.42 399.4,255.57 400.0,253.68 400.6,253.38 401.19,254.91 401.79,255.38 402.38,255.02 402.98,254.93 403.57,253.25 404.17,255.49 404.76,253.57 405.36,255.61 405.95,254.39 406.55,253.09 407.14,254.01 407.74,254.76 408.33,255.01 408.93,256.76 409.52,255.33 410.12,255.07 410.71,255.11 411.31,252.58 411.9,255.95 412.5,254.58 413.1,254.12 413.69,254.05 414.29,253.24 414.88,255.69 415.48,253.71 416.07,255.99 416.67,252.37 417.26,256.8 417.86,255.86 418.45,255.45 419.05,252.66 419.64,255.59 420.24,252.16 420.83,253.78 421.43,256.23 422.02,250.43 422.62,257.5 423.21,254.17 423.81,255.69 424.4,255.67 425,254.21" fill="none" stroke="#000" stroke-width="1.4" stroke-linejoin="miter"/>
<polyline points="336.6,292.21 336.8,311.0 337.0,324.72 337.6,326.08 338.2,337.19 338.8,331.18 339.4,326.32 340.0,320.69 340.8,337.35 341.7,344.18 342.27,351.49 342.83,348.99 343.4,348.41 344.2,357.07 344.8,358.89 345.4,360.78 346.0,362.27 346.57,365.06 347.13,365.46 347.7,370.04 348.27,368.93 348.83,372.23 349.4,375.67 350.05,373.04 350.7,373.83 351.35,375.82 352.0,373.78 352.6,371.0 353.2,377.91 353.8,378.44 354.45,382.0 355.1,379.92 355.75,378.7 356.4,379.66 357.05,378.1 357.7,380.57 358.35,382.13 359.0,382.17 359.57,381.72 360.13,382.01 360.7,382.36 361.27,382.78 361.83,383.47 362.4,383.29 363.01,382.58 363.61,382.53 364.22,384.02 364.83,383.98 365.43,385.3 366.04,383.5 366.65,383.02 367.26,383.54 367.86,381.78 368.47,382.9 369.08,382.87 369.68,384.07 370.29,383.41 370.9,382.02 371.5,383.25 372.11,382.58 372.72,382.76 373.32,382.3 373.93,383.8 374.54,383.53 375.14,384.7 375.75,382.87 376.36,381.84 376.97,382.72 377.57,381.3 378.18,383.71 378.79,382.19 379.39,382.68 380.0,383.92 380.6,382.65 381.19,381.83 381.79,383.66 382.39,382.72 382.99,384.51 383.58,383.77 384.18,384.45 384.78,383.18 385.37,382.3 385.97,383.22 386.57,384.02 387.16,382.69 387.76,383.86 388.36,384.75 388.96,385.24 389.55,383.14 390.15,383.47 390.75,383.66 391.34,383.35 391.94,382.88 392.54,383.49 393.13,381.71 393.73,383.86 394.33,382.85 394.93,383.85 395.52,382.19 396.12,383.1 396.72,383.41 397.31,382.69 397.91,382.51 398.51,383.36 399.1,384.6 399.7,382.71 400.3,384.87 400.9,383.64 401.49,381.55 402.09,383.55 402.69,384.25 403.28,382.67 403.88,384.16 404.48,381.91 405.07,383.02 405.67,383.78 406.27,383.28 406.87,383.82 407.46,383.72 408.06,383.71 408.66,384.07 409.25,383.84 409.85,383.02 410.45,383.85 411.04,383.28 411.64,383.96 412.24,382.62 412.84,384.02 413.43,383.32 414.03,383.71 414.63,382.94 415.22,383.71 415.82,384.32 416.42,384.57 417.01,384.08 417.61,382.83 418.21,380.62 418.81,382.84 419.4,383.99 420.0,383.24 420.6,381.59 421.2,383.69 421.8,383.68 422.4,384.43 423.0,383.54 423.6,379.29 424.2,383.98 424.8,383.04 425.4,385.1 426.0,382.57 426.6,383.64 427.2,383.01 427.8,384.3 428.4,384.21 429.0,383.19 429.6,381.85 430.2,383.79 430.8,383.56 431.4,384.44 432.0,380.08 432.6,382.91 433.2,383.66 433.8,381.95 434.4,384.78 435.0,383.42 435.6,384.76 436.2,383.37 436.8,383.59 437.4,382.99 438.0,383.52 438.6,383.22 439.2,384.01 439.8,384.11 440.4,383.55 441.0,383.36 441.6,383.43 442.2,383.74 442.8,383.63 443.4,384.65 444.0,383.1 444.6,384.28 445.2,382.53 445.8,380.96 446.4,382.56 447.0,383.06 447.6,383.7 448.2,384.16 448.8,381.2 449.4,384.1 450,384.3" fill="none" stroke="#000" stroke-width="1.3" stroke-linejoin="miter"/>
<polyline points="336.8,324.22 337.3,332.51 337.87,328.61 338.43,332.76 339.0,327.45 339.75,330.35 340.5,333.87 341.1,327.83 341.7,334.45 342.27,328.85 342.83,330.16 343.4,331.46 344.1,327.83 344.8,323.78 345.5,318.09 346.3,320.12 347.0,324.54 347.7,328.85 348.27,327.57 348.83,331.48 349.4,323.02 350.0,330.88 350.6,333.79 351.2,335.74 351.77,331.31 352.33,334.14 352.9,327.98 353.35,338.37 353.8,339.79 354.37,346.59 354.93,338.81 355.5,341.8 356.07,348.99 356.63,354.57 357.2,353.25 357.8,349.38 358.4,349.82 359.0,347.8 359.8,350.67 360.4,359.93 361.0,358.26 361.6,360.97 362.25,365.48 362.9,363.73 363.55,366.34 364.2,364.8 364.82,367.13 365.45,368.27 366.07,371.93 366.7,367.68 367.35,370.65 368.0,372.3 368.65,373.88 369.3,371.83 369.98,371.9 370.65,373.83 371.32,375.44 372.0,377.37 372.62,378.41 373.25,377.42 373.88,377.5 374.5,375.92 375.08,378.17 375.67,374.82 376.25,379.83 376.83,377.51 377.42,378.14 378.0,378.91 378.58,378.85 379.16,375.32 379.73,377.04 380.31,378.37 380.89,379.49 381.47,377.32 382.04,378.49 382.62,378.21 383.2,380.43 383.77,378.42 384.35,379.37 384.93,381.84 385.5,374.53 386.07,378.79 386.65,375.51 387.23,379.31 387.8,375.83 388.38,374.98 388.95,377.79 389.53,380.2 390.1,380.15 390.68,377.5 391.26,380.87 391.83,382.44 392.41,380.15 392.99,379.08 393.57,374.2 394.14,380.81 394.72,378.32 395.3,380.67 395.93,376.66 396.55,381.88 397.18,377.36 397.81,379.68 398.44,381.15 399.06,380.38 399.69,378.65 400.32,374.96 400.95,378.98 401.57,379.08 402.2,378.68 402.81,379.5 403.42,380.51 404.03,380.65 404.64,379.65 405.25,381.77 405.86,380.55 406.47,382.24 407.08,378.62 407.69,380.73 408.3,378.57 408.9,380.81 409.51,377.73 410.12,380.38 410.73,376.46 411.34,379.04 411.95,379.31 412.56,378.78 413.17,379.06 413.78,380.54 414.39,380.9 415.0,380.42 415.6,380.1 416.2,381.91 416.8,375.14 417.4,378.07 418.0,380.97 418.6,381.2 419.2,379.6 419.8,380.56 420.4,380.61 421.0,380.08 421.6,380.66 422.2,381.46 422.8,379.95 423.4,380.78 424.0,380.37 424.6,379.36 425.2,380.89 425.8,384.01 426.4,381.29 427.0,381.63 427.6,379.78 428.2,377.99 428.8,380.21 429.4,375.89 430.0,380.73 430.61,381.63 431.21,381.26 431.82,381.02 432.42,379.09 433.03,381.65 433.64,380.77 434.24,382.43 434.85,383.21 435.45,379.48 436.06,382.5 436.67,383.33 437.27,380.84 437.88,380.98 438.48,382.66 439.09,383.42 439.7,378.14 440.3,384.24 440.91,381.15 441.52,381.17 442.12,378.78 442.73,378.3 443.33,381.99 443.94,383.43 444.55,381.52 445.15,382.34 445.76,382.0 446.36,381.87 446.97,381.54 447.58,381.76 448.18,381.83 448.79,383.2 449.39,382.21 450.0,383.47 450.61,383.44 451.21,382.43 451.82,381.93 452.42,383.17 453.03,383.24 453.64,382.7 454.24,383.12 454.85,381.79 455.45,381.99 456.06,382.54 456.67,381.82 457.27,382.08 457.88,383.05 458.48,382.02 459.09,380.68 459.7,383.42 460.3,382.5 460.91,382.47 461.52,385.3 462.12,383.29 462.73,383.41 463.33,383.97 463.94,383.53 464.55,383.71 465.15,383.65 465.76,383.73 466.36,383.96 466.97,382.12 467.58,382.29 468.18,383.31 468.79,382.08 469.39,383.75 470,379.01" fill="none" stroke="#000" stroke-width="1.3" stroke-linejoin="miter"/>
<polyline points="336.6,432.63 336.9,440.13 337.3,455.45 337.6,454.78 338.3,458.19 338.9,454.7 339.5,454.93 340.1,462.04 340.7,457.21 341.3,457.65 341.9,459.27 342.35,457.46 342.8,462.19 343.4,467.1 344.0,473.84 344.6,474.81 345.17,476.38 345.73,468.09 346.3,472.81 347.2,478.49 347.65,487.16 348.1,485.56 348.7,485.27 349.3,488.48 349.9,487.39 350.35,493.56 350.8,489.44 351.4,491.74 352.0,492.76 352.6,495.5 353.17,496.19 353.73,500.2 354.3,500.63 354.9,504.4 355.5,501.76 356.1,508.37 356.7,507.8 357.3,508.2 357.9,509.97 358.5,507.6 359.1,507.97 359.7,510.25 360.3,510.14 360.9,511.44 361.5,509.76 362.15,511.1 362.8,509.03 363.45,513.18 364.1,511.59 364.71,511.97 365.32,512.0 365.93,512.35 366.55,513.47 367.16,512.54 367.77,511.52 368.38,513.56 368.99,511.31 369.6,512.42 370.22,512.72 370.83,512.67 371.44,512.5 372.05,512.02 372.66,513.86 373.27,513.54 373.88,508.77 374.5,512.9 375.11,513.41 375.72,512.54 376.33,514.2 376.94,513.16 377.55,513.74 378.17,512.04 378.78,513.53 379.39,512.6 380.0,511.99 380.6,513.47 381.19,513.34 381.79,512.28 382.39,513.1 382.99,513.36 383.58,510.04 384.18,513.63 384.78,512.63 385.37,512.96 385.97,512.54 386.57,513.23 387.16,512.85 387.76,513.01 388.36,511.37 388.96,513.69 389.55,513.34 390.15,513.36 390.75,513.18 391.34,513.37 391.94,513.29 392.54,512.75 393.13,512.97 393.73,513.57 394.33,512.78 394.93,514.2 395.52,512.9 396.12,513.76 396.72,513.44 397.31,513.42 397.91,512.98 398.51,512.27 399.1,510.8 399.7,513.49 400.3,509.87 400.9,513.75 401.49,510.25 402.09,512.91 402.69,513.62 403.28,513.64 403.88,513.84 404.48,512.33 405.07,510.41 405.67,513.3 406.27,512.54 406.87,513.46 407.46,512.95 408.06,514.16 408.66,513.07 409.25,513.23 409.85,511.08 410.45,512.78 411.04,510.63 411.64,513.54 412.24,513.47 412.84,514.05 413.43,512.95 414.03,513.64 414.63,514.16 415.22,512.98 415.82,514.16 416.42,511.32 417.01,513.83 417.61,513.7 418.21,512.99 418.81,512.73 419.4,512.98 420.0,508.45 420.6,511.73 421.2,513.66 421.79,513.42 422.39,509.34 422.99,512.33 423.59,513.32 424.18,513.01 424.78,512.82 425.38,512.95 425.98,513.78 426.58,510.33 427.17,512.87 427.77,513.16 428.37,513.51 428.97,512.78 429.57,512.6 430.16,511.64 430.76,513.49 431.36,513.26 431.96,512.77 432.55,513.31 433.15,512.29 433.75,512.58 434.35,512.28 434.95,513.15 435.54,512.73 436.14,513.06 436.74,513.21 437.34,510.65 437.93,512.36 438.53,511.23 439.13,513.28 439.73,513.0 440.33,512.74 440.92,512.73 441.52,512.88 442.12,509.95 442.72,513.72 443.32,511.99 443.91,511.96 444.51,509.96 445.11,513.34 445.71,512.89 446.3,513.38 446.9,513.34 447.5,512.83 448.1,512.97 448.7,512.45 449.29,512.75 449.89,513.54 450.49,510.59 451.09,512.6 451.68,513.41 452.28,512.12 452.88,512.27 453.48,513.03 454.08,512.78 454.67,512.88 455.27,509.89 455.87,513.57 456.47,510.18 457.07,513.92 457.66,513.15 458.26,512.37 458.86,512.36 459.46,512.94 460.05,512.42 460.65,512.0 461.25,512.81 461.85,513.64 462.45,513.09 463.04,513.25 463.64,514.2 464.24,512.76 464.84,513.84 465.43,509.94 466.03,512.6 466.63,512.67 467.23,512.11 467.83,513.11 468.42,513.11 469.02,512.9 469.62,512.75 470.22,513.08 470.82,512.44 471.41,512.69 472.01,512.76 472.61,513.18 473.21,512.71 473.8,512.91 474.4,513.63 475,513.43" fill="none" stroke="#000" stroke-width="1.4" stroke-linejoin="miter"/>
<polyline points="336.0,512.65 336.59,512.73 337.18,511.97 337.77,512.52 338.36,513.02 338.95,512.6 339.54,511.92 340.13,510.94 340.72,511.82 341.31,511.42 341.9,512.45 342.5,512.72 343.1,511.34 343.7,510.96 344.28,509.54 344.87,509.61 345.45,508.9 346.03,510.59 346.62,507.66 347.2,507.56 347.88,508.89 348.55,507.6 349.22,507.76 349.9,505.57 350.5,505.32 351.1,507.36 351.7,506.97 352.28,505.55 352.87,505.0 353.45,503.92 354.03,504.18 354.62,504.74 355.2,501.32 355.88,502.6 356.55,502.94 357.22,503.23 357.9,500.31 358.44,500.94 358.98,498.85 359.52,494.58 360.06,499.89 360.6,499.81 361.17,500.41 361.73,500.84 362.3,500.56 362.9,501.93 363.5,497.62 364.1,501.04 364.78,497.47 365.45,497.9 366.12,496.79 366.8,494.99 367.4,492.56 368.0,490.02 368.6,492.72 369.2,494.41 369.8,496.22 370.4,496.76 370.97,495.01 371.53,496.14 372.1,488.46 372.7,489.18 373.3,492.78 373.9,488.31 374.5,490.54 375.1,490.08 375.7,494.18 376.3,487.33 376.9,490.23 377.5,486.24 378.07,489.16 378.63,493.62 379.2,492.07 379.8,493.42 380.4,490.23 381.0,491.35 381.68,490.23 382.35,490.02 383.02,487.27 383.7,490.24 384.38,491.31 385.05,490.9 385.72,486.46 386.4,489.71 386.98,490.44 387.57,490.72 388.15,492.85 388.73,490.96 389.32,491.57 389.9,490.58 390.44,487.27 390.98,489.1 391.52,485.41 392.06,482.63 392.6,478.83 393.2,482.14 393.8,486.51 394.4,484.46 395.05,491.25 395.7,486.64 396.35,491.56 397.0,493.25 397.6,492.24 398.2,490.5 398.8,489.97 399.4,489.57 400.0,490.16 400.6,491.78 401.18,489.21 401.77,492.39 402.35,496.98 402.93,493.85 403.52,496.37 404.1,495.52 404.7,494.95 405.3,494.07 405.9,495.69 406.5,494.09 407.1,489.7 407.7,489.84 408.38,488.94 409.05,492.56 409.72,489.43 410.4,485.11 410.85,497.01 411.3,501.58 411.87,496.56 412.43,494.33 413.0,491.37 413.6,490.59 414.2,491.76 414.8,493.95 415.4,493.77 416.0,497.08 416.6,497.71 417.2,497.2 417.8,492.55 418.4,492.39 419.0,494.43 419.6,491.46 420.2,491.75 420.8,487.92 421.4,491.24 422.0,489.64 422.57,480.61 423.13,483.11 423.7,472.57 424.32,478.03 424.95,473.6 425.57,473.33 426.2,469.8 426.82,468.26 427.45,460.78 428.07,468.64 428.7,460.2 429.3,456.72 429.9,447.25 430.5,437.14 431.1,431.5 431.75,435.27 432.4,429.86 433.0,433.03 433.6,438.61 434.25,439.56 434.9,432.13 435.5,436.54 436.1,444.52 436.75,446.53 437.4,453.18 438.02,448.18 438.65,449.8 439.27,450.03 439.9,446.45 440.5,456.73 441.1,454.15 441.7,455.24 442.3,456.92 442.93,458.97 443.55,457.51 444.18,465.16 444.8,468.06 445.43,469.31 446.05,471.92 446.68,477.04 447.3,479.3 447.93,479.43 448.55,479.79 449.18,487.11 449.8,493.41 450.43,491.23 451.05,495.1 451.68,495.63 452.3,497.88 452.93,498.86 453.55,500.95 454.18,501.81 454.8,506.95 455.43,504.6 456.05,504.83 456.68,506.94 457.3,505.42 457.93,507.53 458.55,508.73 459.18,507.77 459.8,507.45 460.41,507.9 461.02,510.21 461.64,510.34 462.25,510.79 462.86,510.18 463.48,509.36 464.09,507.18 464.7,511.28 465.32,510.1 465.95,511.11 466.57,512.21 467.2,511.13 467.82,510.75 468.45,511.32 469.07,511.2 469.7,512.05 470.32,512.94 470.95,511.2 471.57,512.51 472.2,512.56 472.82,512.96 473.45,512.13 474.07,512.85 474.7,513.54 475.29,513.95 475.88,513.67 476.47,510.08 477.06,513.71 477.64,512.58 478.23,513.36 478.82,513.62 479.41,512.98 480,513.44" fill="none" stroke="#000" stroke-width="1.5" stroke-linejoin="miter"/>
<polyline points="77.5,494.19 78.0,500.72 78.6,504.57 79.2,501.22 79.8,503.54 80.4,508.34 81.0,502.73 81.6,508.41 82.2,507.91 82.8,507.09 83.4,505.77 84.0,508.54 84.6,502.89 85.2,501.85 85.8,506.44 86.4,498.97 87.0,501.67 87.6,507.28 88.2,500.69 88.8,499.22 89.41,498.05 90.03,500.86 90.64,503.48 91.25,501.85 91.86,508.82 92.47,506.97 93.09,499.45 93.7,503.04 94.3,501.15 94.9,503.31 95.5,495.46 96.1,500.54 96.7,493.04 97.3,496.22 97.9,494.46 98.5,494.05 99.1,493.86 99.7,488.37 100.3,497.14 100.9,494.74 101.5,489.31 102.1,488.29 102.7,490.59 103.3,491.3 103.9,481.37 104.5,483.33 105.1,488.16 105.7,483.62 106.3,483.31 106.9,484.22 107.5,482.8 108.1,476.41 108.7,480.1 109.3,477.43 109.9,476.8 110.5,470.08 111.1,470.97 111.7,474.06 112.3,467.45 112.9,473.15 113.5,466.87 114.1,465.6 114.7,461.15 115.3,464.2 115.9,461.14 116.5,456.54 117.1,454.39 117.7,453.46 118.3,453.78 118.9,450.45 119.5,451.57 120.1,448.74 120.7,448.18 121.3,441.46 121.9,438.82 122.5,434.68 123.1,436.7 123.7,432.2 124.3,433.28 124.9,431.82 125.5,430.67 126.1,439.14 126.7,436.59 127.3,438.48 127.9,441.96 128.5,443.81 129.1,439.84 129.7,440.12 130.3,444.55 130.9,445.39 131.5,449.15 132.1,453.14 132.7,456.27 133.3,462.07 133.9,461.31 134.5,461.84 135.1,467.76 135.7,468.28 136.3,474.99 136.9,473.06 137.5,475.91 138.1,474.31 138.7,473.69 139.3,481.22 139.9,483.57 140.5,484.69 141.1,487.02 141.7,483.62 142.3,492.4 142.9,491.46 143.5,496.31 144.1,496.76 144.7,497.32 145.3,497.09 145.9,503.36 146.5,503.07 147.1,503.87 147.7,498.32 148.3,508.61 148.9,508.6 149.5,505.91 150.1,510.29 150.7,512.09 151.3,515.02 151.92,512.9 152.53,510.36 153.15,513.49 153.77,512.99 154.38,515.77 155.0,516.34 155.6,514.23 156.2,515.94 156.8,516.59 157.4,517.39 158.0,511.54 158.6,517.58 159.2,517.94 159.8,516.44 160.4,517.66 161.0,514.85 161.6,516.93 162.2,517.64 162.8,517.16 163.4,517.45 164.0,517.71 164.6,517.5 165.2,518.09 165.8,517.83 166.4,518.19 167.0,517.16 167.6,518.03 168.2,517.88 168.8,517.65 169.4,518.18 170.0,517.79 170.6,517.59 171.2,518.22 171.8,518.59 172.4,519.0 173.0,518.06 173.6,518.42 174.2,516.41 174.8,518.48 175.4,519.0 176.0,519.0 176.6,518.85 177.2,519.0 177.8,517.97 178.4,519.0 179.0,516.7 179.6,518.91 180.2,517.13 180.8,518.86 181.4,517.19 182.0,519.0 182.6,518.13 183.2,519.0 183.8,518.13 184.4,518.43 185,518.84" fill="none" stroke="#000" stroke-width="1.3" stroke-linejoin="miter"/>
<polyline points="77.5,516.18 78.09,517.88 78.69,516.25 79.28,518.5 79.88,519.0 80.47,516.18 81.07,515.43 81.66,514.59 82.26,515.02 82.85,512.35 83.45,516.44 84.04,514.32 84.64,514.96 85.23,516.16 85.83,514.12 86.42,513.95 87.02,514.1 87.61,512.72 88.21,512.92 88.8,515.79 89.41,513.36 90.01,518.21 90.61,515.67 91.22,512.22 91.83,509.29 92.43,513.65 93.03,514.83 93.64,516.66 94.25,514.58 94.85,513.4 95.45,513.84 96.06,511.98 96.67,509.76 97.27,511.96 97.88,516.64 98.48,508.58 99.09,508.55 99.69,514.55 100.3,511.62 100.9,511.44 101.5,514.66 102.1,511.57 102.7,516.18 103.3,514.06 103.9,509.8 104.5,513.82 105.1,512.8 105.7,512.29 106.3,516.63 106.9,511.63 107.5,512.28 108.1,512.53 108.7,511.83 109.3,511.6 109.9,510.89 110.5,512.25 111.1,513.21 111.7,508.68 112.3,510.18 112.9,507.11 113.5,505.99 114.1,507.19 114.7,510.46 115.3,510.31 115.9,507.29 116.5,503.11 117.1,501.01 117.7,510.36 118.3,502.62 118.9,510.48 119.5,502.59 120.1,503.69 120.7,497.33 121.3,506.61 121.9,503.9 122.5,499.19 123.1,500.62 123.7,497.27 124.3,495.58 124.9,499.05 125.5,497.09 126.1,499.15 126.7,494.78 127.3,498.53 127.9,498.82 128.5,494.31 129.1,494.09 129.7,487.82 130.3,490.08 130.9,484.68 131.5,489.35 132.1,487.85 132.7,482.36 133.3,480.81 133.9,486.88 134.5,479.86 135.1,480.87 135.7,476.13 136.3,473.76 136.9,474.84 137.5,473.33 138.1,474.34 138.7,473.41 139.3,466.26 139.94,465.65 140.58,464.73 141.22,464.62 141.86,460.58 142.5,454.18 143.12,458.42 143.75,458.57 144.38,451.76 145.0,452.54 145.62,447.81 146.25,453.37 146.88,449.64 147.5,446.7 148.12,447.82 148.75,450.46 149.38,444.54 150.0,449.67 150.62,446.39 151.25,447.76 151.88,452.3 152.5,452.77 153.12,453.03 153.75,455.61 154.38,460.03 155.0,455.77 155.62,454.83 156.25,456.39 156.88,444.63 157.5,453.17 158.12,446.25 158.75,446.3 159.38,441.75 160.0,442.1 160.62,442.09 161.25,444.82 161.88,440.96 162.5,455.29 163.12,454.47 163.75,452.0 164.38,450.48 165.0,456.02 165.62,460.07 166.25,459.71 166.88,459.23 167.5,464.48 168.12,464.53 168.75,465.29 169.38,461.78 170.0,473.82 170.62,467.86 171.25,479.16 171.88,476.07 172.5,477.28 173.12,481.29 173.75,480.47 174.38,481.13 175.0,486.46 175.62,481.46 176.25,487.48 176.88,489.1 177.5,495.98 178.12,491.52 178.75,494.37 179.38,494.34 180.0,495.64 180.62,495.34 181.25,498.38 181.88,494.9 182.5,502.2 183.12,501.09 183.75,505.29 184.38,506.57 185.0,507.25 185.62,508.97 186.25,509.34 186.88,511.39 187.5,514.05 188.12,513.83 188.75,511.25 189.38,514.6 190.0,516.26 190.62,514.84 191.25,516.86 191.88,517.43 192.5,516.48 193.12,513.64 193.75,518.83 194.38,518.4 195.0,518.18 195.59,517.8 196.18,517.94 196.76,518.4 197.35,518.82 197.94,518.56 198.53,517.43 199.12,519.0 199.71,518.38 200.29,518.22 200.88,516.5 201.47,518.26 202.06,518.63 202.65,519.0 203.24,518.9 203.82,515.22 204.41,519.0 205,519.0" fill="none" stroke="#000" stroke-width="1.3" stroke-linejoin="miter"/>
<polyline points="336.7,296.0 336.9,310.0 337.1,325.0" fill="none" stroke="#000" stroke-width="1.8" stroke-linejoin="miter"/>
<polyline points="336.6,33.0 336.9,45.0 337.3,55.0 337.8,66.0" fill="none" stroke="#000" stroke-width="2.0" stroke-linejoin="miter"/>
<polyline points="336.7,438.0 337.1,446.0 337.6,454.0" fill="none" stroke="#000" stroke-width="2.0" stroke-linejoin="miter"/>
<polyline points="345.5,86.0 346.0,87.0 346.5,88.0 347.3,93.0 348.0,99.0 348.5,106.0 349.0,105.0 349.5,104.0" fill="none" stroke="#000" stroke-width="2.6" stroke-linejoin="miter"/>
<polyline points="429.5,447.0 430.0,442.5 430.5,438.0 431.0,435.5 431.5,433.0 432.0,434.5 432.5,436.0 433.0,434.0 433.5,432.0 434.0,436.0 434.5,440.0 435.0,443.0 435.5,446.0" fill="none" stroke="#000" stroke-width="2.2" stroke-linejoin="miter"/>
</svg>
</body></html>
